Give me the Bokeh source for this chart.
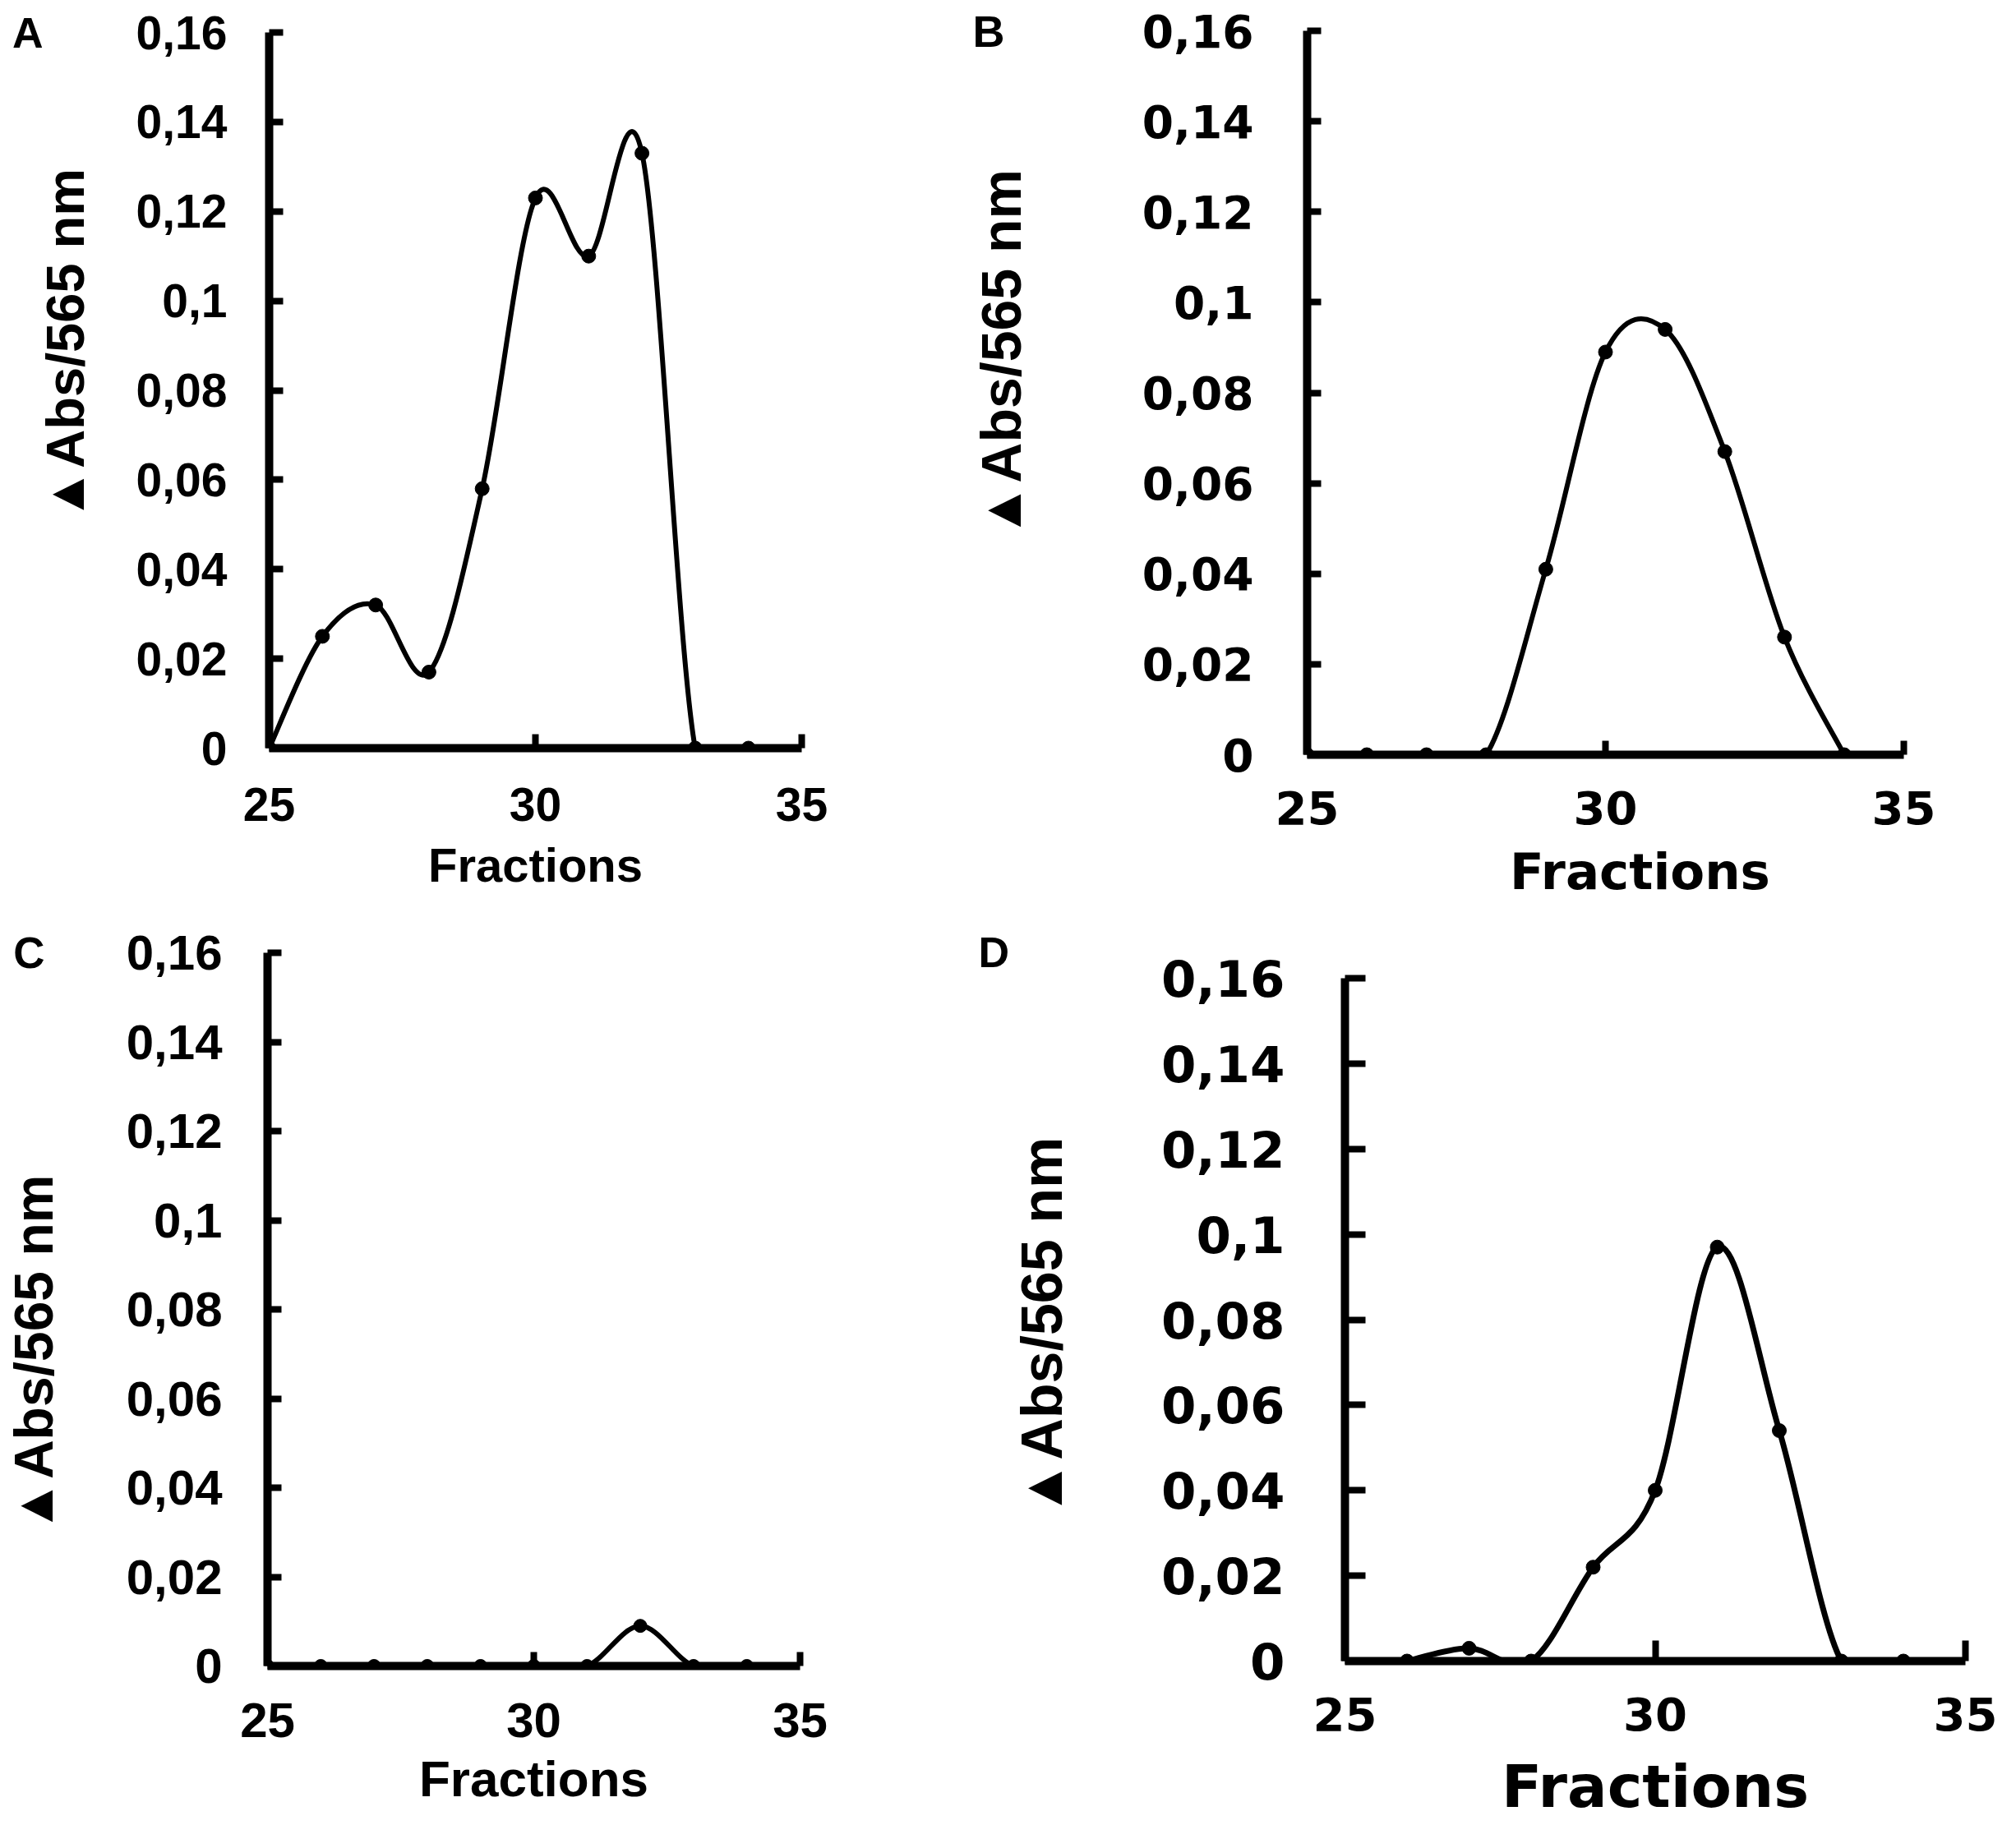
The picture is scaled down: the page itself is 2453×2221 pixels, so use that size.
from bokeh.plotting import figure
from bokeh.layouts import column, row
from bokeh.models import Range1d, FixedTicker, CustomJSTickFormatter, LinearAxis
from bokeh.embed import file_html
from bokeh.resources import INLINE

# ---------------- data ----------------
fractions_A = [25, 26, 27, 28, 29, 30, 31, 32, 33, 34]
abs_A = [0.0, 0.025, 0.032, 0.017, 0.058, 0.123, 0.110, 0.133, 0.0, 0.0]

fractions_B = [25, 26, 27, 28, 29, 30, 31, 32, 33, 34]
abs_B = [0.0, 0.0, 0.0, 0.0, 0.041, 0.089, 0.094, 0.067, 0.026, 0.0]

fractions_C = [25, 26, 27, 28, 29, 30, 31, 32, 33, 34]
abs_C = [0.0, 0.0, 0.0, 0.0, 0.0, 0.0, 0.0, 0.009, 0.0, 0.0]

fractions_D = [26, 27, 28, 29, 30, 31, 32, 33, 34]
abs_D = [0.0, 0.003, 0.0, 0.022, 0.040, 0.097, 0.054, 0.0, 0.0]

x_ticks = [25, 30, 35]
y_ticks = [0, 0.02, 0.04, 0.06, 0.08, 0.1, 0.12, 0.14, 0.16]
y_tick_labels = ["0", "0,02", "0,04", "0,06", "0,08", "0,1", "0,12", "0,14", "0,16"]
panel_letters = ["A", "B", "C", "D"]
x_title = "Fractions"
y_title = "\u25B2Abs/565 nm"

X_MIN, X_MAX = 25, 35
Y_MIN, Y_MAX = 0.0, 0.16

LIB = "Liberation Sans"
DJV = "DejaVu Sans"

# layout / style specs (page pixel geometry)
# letter_mode: "axis" -> letter is a tick label on an extra left axis at the frame top,
#              "title" -> letter is the figure title (above the frame, shifted left)
specs = [
    dict(x=0, y=0, w=1160, h=1125, frame=(327, 975, 39, 910),
         axis_w=10, tick_in=17, tick_w=8, curve_w=6, dot=17,
         xt_font=LIB, xt_size=57, xt_stand=48,
         yt_font=LIB, yt_size=57, yt_stand=51,
         letter_mode="axis", letter_size=52, letter_stand=-13,
         ytitle_y=419, ytitle_font=LIB, ytitle_size=65, ytitle_stand=47,
         xtitle_x=None, xtitle_font=LIB, xtitle_size=58, xtitle_stand=18),
    dict(x=1160, y=0, w=1293, h=1125, frame=(1590, 2316, 37, 918),
         axis_w=10, tick_in=17, tick_w=8, curve_w=6, dot=17,
         xt_font=DJV, xt_size=56, xt_stand=44,
         yt_font=DJV, yt_size=55, yt_stand=65,
         letter_mode="axis", letter_size=54, letter_stand=-46,
         ytitle_y=430, ytitle_font=LIB, ytitle_size=68, ytitle_stand=131,
         xtitle_x=1995, xtitle_font=DJV, xtitle_size=61, xtitle_stand=19),
    dict(x=0, y=1125, w=1160, h=1096, frame=(322, 973, 1159, 2027),
         axis_w=10, tick_in=17, tick_w=8, curve_w=6, dot=16,
         xt_font=LIB, xt_size=60, xt_stand=45,
         yt_font=LIB, yt_size=60, yt_stand=55,
         letter_mode="axis", letter_size=53, letter_stand=-54,
         ytitle_y=1647, ytitle_font=LIB, ytitle_size=66, ytitle_stand=73,
         xtitle_x=None, xtitle_font=LIB, xtitle_size=62, xtitle_stand=13),
    dict(x=1160, y=1125, w=1293, h=1096, frame=(1636, 2391, 1187, 2021),
         axis_w=10, tick_in=25, tick_w=8, curve_w=7, dot=17,
         xt_font=DJV, xt_size=56, xt_stand=44,
         yt_font=DJV, yt_size=61, yt_stand=73,
         letter_mode="title", letter_size=52, letter_left=1190,
         ytitle_y=1613, ytitle_font=LIB, ytitle_size=70, ytitle_stand=102,
         xtitle_x=None, xtitle_font=DJV, xtitle_size=72, xtitle_stand=23),
]

series = [(fractions_A, abs_A), (fractions_B, abs_B), (fractions_C, abs_C), (fractions_D, abs_D)]


def smooth_segments(xs, ys):
    """Cubic Bezier control points (Catmull-Rom style smoothing) for each segment."""
    n = len(xs)
    seg = dict(x0=[], y0=[], x1=[], y1=[], cx0=[], cy0=[], cx1=[], cy1=[])
    for i in range(n - 1):
        a = i - 1 if i > 0 else i
        d = i + 2 if i + 2 < n else i + 1
        seg["x0"].append(xs[i]); seg["y0"].append(ys[i])
        seg["x1"].append(xs[i + 1]); seg["y1"].append(ys[i + 1])
        seg["cx0"].append(xs[i] + (xs[i + 1] - xs[a]) / 6.0)
        seg["cy0"].append(ys[i] + (ys[i + 1] - ys[a]) / 6.0)
        seg["cx1"].append(xs[i + 1] - (xs[d] - xs[i]) / 6.0)
        seg["cy1"].append(ys[i + 1] - (ys[d] - ys[i]) / 6.0)
    return seg


def page_y_to_data(spec, py):
    fl, fr, ft, fb = spec["frame"]
    v = Y_MIN + (fb - py) / (fb - ft) * (Y_MAX - Y_MIN)
    return min(max(v, Y_MIN), Y_MAX)


def page_x_to_data(spec, px):
    fl, fr, ft, fb = spec["frame"]
    v = X_MIN + (px - fl) / (fr - fl) * (X_MAX - X_MIN)
    return min(max(v, X_MIN), X_MAX)


y_formatter_code = """
const i = tv.findIndex(t => Math.abs(t - tick) < 1e-9);
return i >= 0 ? tl[i] : "";
"""


def text_axis(text, tick_value, font, size, standoff, orientation):
    """An axis without line/ticks whose single tick label carries a text."""
    ax = LinearAxis(ticker=FixedTicker(ticks=[tick_value], minor_ticks=[]),
                    formatter=CustomJSTickFormatter(args=dict(t=text), code="return t;"))
    ax.axis_line_color = None
    ax.major_tick_line_color = None
    ax.minor_tick_line_color = None
    ax.major_tick_in = 0
    ax.major_tick_out = 0
    ax.major_label_text_font = font
    ax.major_label_text_font_size = f"{size}px"
    ax.major_label_text_font_style = "bold"
    ax.major_label_text_color = "black"
    ax.major_label_standoff = standoff
    ax.major_label_orientation = orientation
    return ax


def make_panel(k):
    spec = specs[k]
    xs, ys = series[k]
    fl, fr, ft, fb = spec["frame"]
    p = figure(width=spec["w"], height=spec["h"],
               x_range=Range1d(X_MIN, X_MAX), y_range=Range1d(Y_MIN, Y_MAX),
               output_backend="svg", toolbar_location=None,
               frame_align=False,
               min_border_left=fl - spec["x"],
               min_border_right=spec["x"] + spec["w"] - fr,
               min_border_top=ft - spec["y"],
               min_border_bottom=spec["y"] + spec["h"] - fb)
    p.outline_line_color = None
    p.grid.visible = False
    p.background_fill_color = "white"
    p.border_fill_color = "white"

    p.xaxis.ticker = FixedTicker(ticks=x_ticks, minor_ticks=[])
    p.yaxis.ticker = FixedTicker(ticks=y_ticks, minor_ticks=[])
    p.yaxis.formatter = CustomJSTickFormatter(args=dict(tv=y_ticks, tl=y_tick_labels),
                                              code=y_formatter_code)
    for ax in (p.xaxis[0], p.yaxis[0]):
        ax.axis_line_width = spec["axis_w"]
        ax.axis_line_color = "black"
        ax.major_tick_line_color = "black"
        ax.major_tick_line_width = spec["tick_w"]
        ax.major_tick_in = spec["tick_in"]
        ax.major_tick_out = 0
        ax.minor_tick_line_color = None
        ax.major_label_text_color = "black"
        ax.major_label_text_font_style = "bold"
        ax.axis_label_text_color = "black"
        ax.axis_label_text_font_style = "bold"
    p.xaxis.major_label_text_font = spec["xt_font"]
    p.xaxis.major_label_text_font_size = f"{spec['xt_size']}px"
    p.xaxis.major_label_standoff = spec["xt_stand"]
    p.yaxis.major_label_text_font = spec["yt_font"]
    p.yaxis.major_label_text_font_size = f"{spec['yt_size']}px"
    p.yaxis.major_label_standoff = spec["yt_stand"]

    # x axis title
    if spec["xtitle_x"] is None:
        p.xaxis.axis_label = x_title
        p.xaxis.axis_label_text_font = spec["xtitle_font"]
        p.xaxis.axis_label_text_font_size = f"{spec['xtitle_size']}px"
        p.xaxis.axis_label_standoff = spec["xtitle_stand"]
    else:
        xt_ax = text_axis(x_title, page_x_to_data(spec, spec["xtitle_x"]),
                          spec["xtitle_font"], spec["xtitle_size"], spec["xtitle_stand"],
                          "horizontal")
        p.add_layout(xt_ax, "below")

    # y axis title (rotated text placed at its own height)
    title_ax = text_axis(y_title, page_y_to_data(spec, spec["ytitle_y"]),
                         spec["ytitle_font"], spec["ytitle_size"], spec["ytitle_stand"],
                         "parallel")
    p.add_layout(title_ax, "left")

    # panel letter
    if spec["letter_mode"] == "axis":
        letter_ax = text_axis(panel_letters[k], Y_MAX, LIB, spec["letter_size"],
                              spec["letter_stand"], "horizontal")
        p.add_layout(letter_ax, "left")
    else:
        p.title.text = panel_letters[k]
        p.title.align = "left"
        p.title.offset = spec["letter_left"] - fl
        p.title.standoff = 5
        p.title.text_font = LIB
        p.title.text_font_size = f"{spec['letter_size']}px"
        p.title.text_font_style = "bold"
        p.title.text_color = "black"

    seg = smooth_segments(xs, ys)
    p.bezier(line_color="black", line_width=spec["curve_w"], **seg)
    p.scatter(xs, ys, size=spec["dot"], color="black")
    return p


panels = [make_panel(k) for k in range(4)]
layout = column(row(panels[0], panels[1]), row(panels[2], panels[3]))

with open("out.html", "w") as f:
    f.write(file_html(layout, INLINE))
